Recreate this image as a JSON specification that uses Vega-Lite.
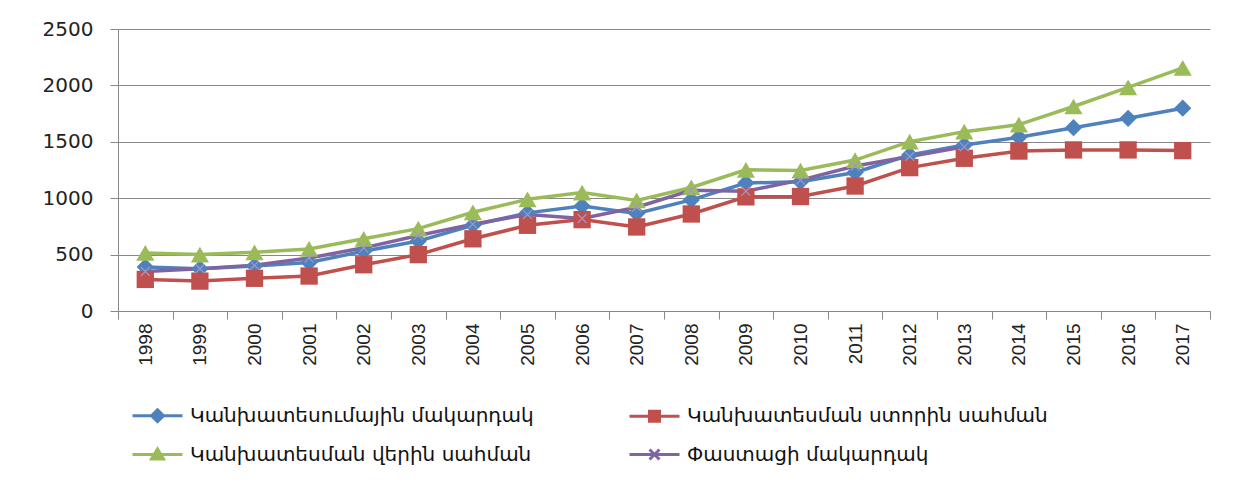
{
  "$schema": "https://vega.github.io/schema/vega-lite/v6.json",
  "width": 1092,
  "height": 282,
  "autosize": "none",
  "padding": {"left": 118, "top": 29, "right": 32, "bottom": 170},
  "background": "white",
  "config": {"view": {"stroke": null}},
  "data": {
    "values": [
      {"year": "1998", "Կանխատեսումային մակարդակ": 390, "Կանխատեսման ստորին սահման": 280, "Կանխատեսման վերին սահման": 515, "Փաստացի մակարդակ": 350},
      {"year": "1999", "Կանխատեսումային մակարդակ": 375, "Կանխատեսման ստորին սահման": 265, "Կանխատեսման վերին սահման": 500, "Փաստացի մակարդակ": 375},
      {"year": "2000", "Կանխատեսումային մակարդակ": 400, "Կանխատեսման ստորին սահման": 290, "Կանխատեսման վերին սահման": 520, "Փաստացի մակարդակ": 405},
      {"year": "2001", "Կանխատեսումային մակարդակ": 430, "Կանխատեսման ստորին սահման": 310, "Կանխատեսման վերին սահման": 550, "Փաստացի մակարդակ": 470},
      {"year": "2002", "Կանխատեսումային մակարդակ": 530, "Կանխատեսման ստորին սահման": 410, "Կանխատեսման վերին սահման": 640, "Փաստացի մակարդակ": 560},
      {"year": "2003", "Կանխատեսումային մակարդակ": 620, "Կանխատեսման ստորին սահման": 500, "Կանխատեսման վերին սահման": 730, "Փաստացի մակարդակ": 670},
      {"year": "2004", "Կանխատեսումային մակարդակ": 760, "Կանխատեսման ստորին սահման": 640, "Կանխատեսման վերին սահման": 875, "Փաստացի մակարդակ": 770},
      {"year": "2005", "Կանխատեսումային մակարդակ": 870, "Կանխատեսման ստորին սահման": 760, "Կանխատեսման վերին սահման": 990, "Փաստացի մակարդակ": 855},
      {"year": "2006", "Կանխատեսումային մակարդակ": 930, "Կանխատեսման ստորին սահման": 810, "Կանխատեսման վերին սահման": 1050, "Փաստացի մակարդակ": 820},
      {"year": "2007", "Կանխատեսումային մակարդակ": 865, "Կանխատեսման ստորին սահման": 745, "Կանխատեսման վերին սահման": 980, "Փաստացի մակարդակ": 920},
      {"year": "2008", "Կանխատեսումային մակարդակ": 985, "Կանխատեսման ստորին սահման": 860, "Կանխատեսման վերին սահման": 1095, "Փաստացի մակարդակ": 1070},
      {"year": "2009", "Կանխատեսումային մակարդակ": 1135, "Կանխատեսման ստորին սահման": 1012, "Կանխատեսման վերին սահման": 1252, "Փաստացի մակարդակ": 1062},
      {"year": "2010", "Կանխատեսումային մակարդակ": 1145, "Կանխատեսման ստորին սահման": 1015, "Կանխատեսման վերին սահման": 1245, "Փաստացի մակարդակ": 1160},
      {"year": "2011", "Կանխատեսումային մակարդակ": 1228, "Կանխատեսման ստորին սահման": 1108, "Կանխատեսման վերին սահման": 1338, "Փաստացի մակարդակ": 1285},
      {"year": "2012", "Կանխատեսումային մակարդակ": 1383, "Կանխատեսման ստորին սահման": 1271, "Կանխատեսման վերին սահման": 1501, "Փաստացի մակարդակ": 1370},
      {"year": "2013", "Կանխատեսումային մակարդակ": 1472, "Կանխատեսման ստորին սահման": 1354, "Կանխատեսման վերին սահման": 1590, "Փաստացի մակարդակ": 1455},
      {"year": "2014", "Կանխատեսումային մակարդակ": 1540, "Կանխատեսման ստորին սահման": 1418, "Կանխատեսման վերին սահման": 1652, "Փաստացի մակարդակ": null},
      {"year": "2015", "Կանխատեսումային մակարդակ": 1625, "Կանխատեսման ստորին սահման": 1428, "Կանխատեսման վերին սահման": 1813, "Փաստացի մակարդակ": null},
      {"year": "2016", "Կանխատեսումային մակարդակ": 1708, "Կանխատեսման ստորին սահման": 1428, "Կանխատեսման վերին սահման": 1982, "Փաստացի մակարդակ": null},
      {"year": "2017", "Կանխատեսումային մակարդակ": 1798, "Կանխատեսման ստորին սահման": 1422, "Կանխատեսման վերին սահման": 2155, "Փաստացի մակարդակ": null}
    ]
  },
  "transform": [
    {"fold": ["Կանխատեսումային մակարդակ", "Կանխատեսման ստորին սահման", "Կանխատեսման վերին սահման", "Փաստացի մակարդակ"], "as": ["series", "value"]},
    {"filter": "datum.value != null"}
  ],
  "encoding": {
    "x": {
      "field": "year", "type": "ordinal", "bandPosition": 0.5,
      "scale": {"type": "band", "paddingInner": 0, "paddingOuter": 0},
      "axis": {
        "title": null, "labelAngle": 270, "labelFont": "Liberation Sans", "labelFontSize": 19,
        "labelColor": "#222", "labelPadding": 4, "tickBand": "extent", "tickSize": 8,
        "tickColor": "#888", "domainColor": "#888", "grid": false
      }
    },
    "y": {
      "field": "value", "type": "quantitative",
      "scale": {"domain": [0, 2500], "nice": false},
      "axis": {
        "title": null, "values": [0, 500, 1000, 1500, 2000, 2500], "format": "d", "labelFont": "DejaVu Sans",
        "labelFontSize": 20, "labelColor": "#222", "labelPadding": 17, "tickSize": 8,
        "tickColor": "#888", "domainColor": "#888", "gridColor": "#888", "grid": true
      }
    },
    "color": {
      "field": "series", "type": "nominal",
      "scale": {
        "domain": ["Կանխատեսումային մակարդակ", "Կանխատեսման ստորին սահման", "Կանխատեսման վերին սահման", "Փաստացի մակարդակ"],
        "range": ["#4F81BD", "#C0504D", "#9BBB59", "#8064A2"]
      },
      "legend": {
        "title": null, "orient": "none", "legendX": 13, "legendY": 360, "columns": 2, "direction": "horizontal",
        "padding": 0, "labelFont": "DejaVu Sans", "labelFontSize": 20, "labelColor": "#111", "labelLimit": 600,
        "labelOffset": 6, "columnPadding": 89, "rowPadding": 0, "symbolSize": 2500, "symbolStrokeWidth": 3,
        "encode": {
          "symbols": {
            "update": {
              "shape": {"signal": "datum.value === 'Կանխատեսումային մակարդակ' ? 'M-1,0H1M0,-0.24L0.24,0L0,0.24L-0.24,0Z' : datum.value === 'Կանխատեսման ստորին սահման' ? 'M-1,0H1M-0.2,-0.2H0.2V0.2H-0.2Z' : datum.value === 'Կանխատեսման վերին սահման' ? 'M-1,0H1M0,-0.22L0.24,0.18H-0.24Z' : 'M-1,0H1M-0.2,-0.2L0.2,0.2M0.2,-0.2L-0.2,0.2'"},
              "size": {"value": 2500},
              "strokeWidth": {"value": 3},
              "fill": {"signal": "scale('color', datum.value)"},
              "stroke": {"signal": "scale('color', datum.value)"},
              "opacity": {"value": 1}
            }
          }
        }
      }
    }
  },
  "layer": [
    {"mark": {"type": "line", "strokeWidth": 3.5}},
    {
      "transform": [{"filter": "datum.series === 'Կանխատեսումային մակարդակ'"}],
      "mark": {"type": "point", "shape": "diamond", "size": 300, "filled": true, "opacity": 1}
    },
    {
      "transform": [{"filter": "datum.series === 'Կանխատեսման ստորին սահման'"}],
      "mark": {"type": "point", "shape": "square", "size": 300, "filled": true, "opacity": 1}
    },
    {
      "transform": [{"filter": "datum.series === 'Կանխատեսման վերին սահման'"}],
      "mark": {"type": "point", "shape": "triangle-up", "size": 330, "filled": true, "opacity": 1}
    },
    {
      "transform": [{"filter": "datum.series === 'Փաստացի մակարդակ'"}],
      "mark": {"type": "point", "shape": "M-1,-1L1,1M1,-1L-1,1", "size": 80, "filled": false, "opacity": 1, "strokeWidth": 1.2, "stroke": "#A695C4"}
    }
  ]
}
